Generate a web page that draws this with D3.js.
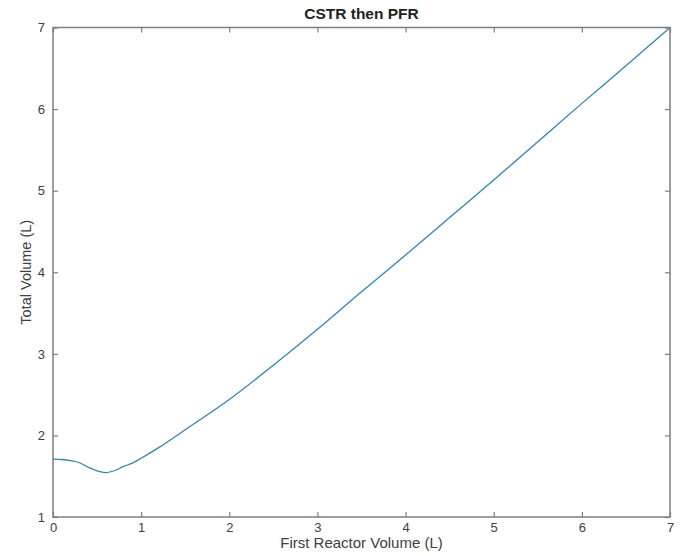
<!DOCTYPE html>
<html>
<head>
<meta charset="utf-8">
<script src="https://cdn.jsdelivr.net/npm/d3@7"></script>
<style>
  body { margin: 0; background: #fff; }
  text { font-family: "Liberation Sans", Arial, sans-serif; }
</style>
</head>
<body>
<div id="chart"></div>
<script>
/* data */
var firstVolume = [0, 0.1, 0.2, 0.3, 0.4, 0.5, 0.6, 0.7, 0.8, 0.9, 1.0, 1.2, 1.5, 2.0, 2.5, 3.0, 3.5, 4.0, 4.5, 5.0, 5.5, 6.0, 6.5, 7.0]
var totalVolume = [1.71, 1.705, 1.69, 1.665, 1.61, 1.565, 1.545, 1.57, 1.62, 1.66, 1.72, 1.85, 2.07, 2.44, 2.86, 3.30, 3.76, 4.21, 4.67, 5.13, 5.60, 6.07, 6.53, 7.0]
var xTicks = [0, 1, 2, 3, 4, 5, 6, 7]
var yTicks = [1, 2, 3, 4, 5, 6, 7]

var layout = {
  width: 680,
  height: 556,
  left: 53,
  right: 670,
  top: 27.5,
  bottom: 517,
  tickLen: 5
}
var axisColor = "#7f7f7f"
var textColor = "#404040"
var lineColor = "#2a86c4"

var svg = d3.select("#chart").append("svg")
  .attr("width", layout.width)
  .attr("height", layout.height)

var x = d3.scaleLinear().domain([0, 7]).range([layout.left, layout.right])
var y = d3.scaleLinear().domain([1, 7]).range([layout.bottom, layout.top])

/* line */
var points = firstVolume.map(function(v, i) { return [v, totalVolume[i]] })
var lineFn = d3.line()
  .x(function(d) { return x(d[0]) })
  .y(function(d) { return y(d[1]) })
  .curve(d3.curveMonotoneX)

svg.append("path")
  .attr("d", lineFn(points))
  .attr("fill", "none")
  .attr("stroke", lineColor)
  .attr("stroke-width", 1.3)

/* axes, ticks inward on all four sides */
function styleAxis(g) {
  g.select(".domain").remove()
  g.selectAll(".tick line").attr("stroke", axisColor).attr("stroke-width", 1.2)
  g.selectAll(".tick text").attr("fill", textColor).style("font-size", "13px")
}
svg.append("g")
  .attr("transform", "translate(0," + layout.bottom + ")")
  .call(d3.axisBottom(x).tickValues(xTicks).tickFormat(d3.format("d")).tickSizeInner(-layout.tickLen).tickPadding(6))
  .call(styleAxis)
svg.append("g")
  .attr("transform", "translate(0," + layout.top + ")")
  .call(d3.axisTop(x).tickValues(xTicks).tickFormat("").tickSizeInner(-layout.tickLen))
  .call(styleAxis)
svg.append("g")
  .attr("transform", "translate(" + layout.left + ",0)")
  .call(d3.axisLeft(y).tickValues(yTicks).tickFormat(d3.format("d")).tickSizeInner(-layout.tickLen).tickPadding(8))
  .call(styleAxis)
svg.append("g")
  .attr("transform", "translate(" + layout.right + ",0)")
  .call(d3.axisRight(y).tickValues(yTicks).tickFormat("").tickSizeInner(-layout.tickLen))
  .call(styleAxis)

/* box */
svg.append("rect")
  .attr("x", layout.left)
  .attr("y", layout.top)
  .attr("width", layout.right - layout.left)
  .attr("height", layout.bottom - layout.top)
  .attr("fill", "none")
  .attr("stroke", axisColor)
  .attr("stroke-width", 1.5)

/* labels */
var midX = (layout.left + layout.right) / 2
svg.append("text")
  .attr("x", midX)
  .attr("y", 19)
  .attr("text-anchor", "middle")
  .attr("font-weight", "bold")
  .attr("fill", "#222")
  .style("font-size", "15.5px")
  .text("CSTR then PFR")
svg.append("text")
  .attr("x", midX)
  .attr("y", 548)
  .attr("text-anchor", "middle")
  .attr("fill", textColor)
  .style("font-size", "15px")
  .text("First Reactor Volume (L)")
svg.append("text")
  .attr("transform", "translate(31," + ((layout.top + layout.bottom) / 2) + ") rotate(-90)")
  .attr("text-anchor", "middle")
  .attr("fill", textColor)
  .style("font-size", "14.5px")
  .text("Total Volume (L)")
</script>
</body>
</html>
